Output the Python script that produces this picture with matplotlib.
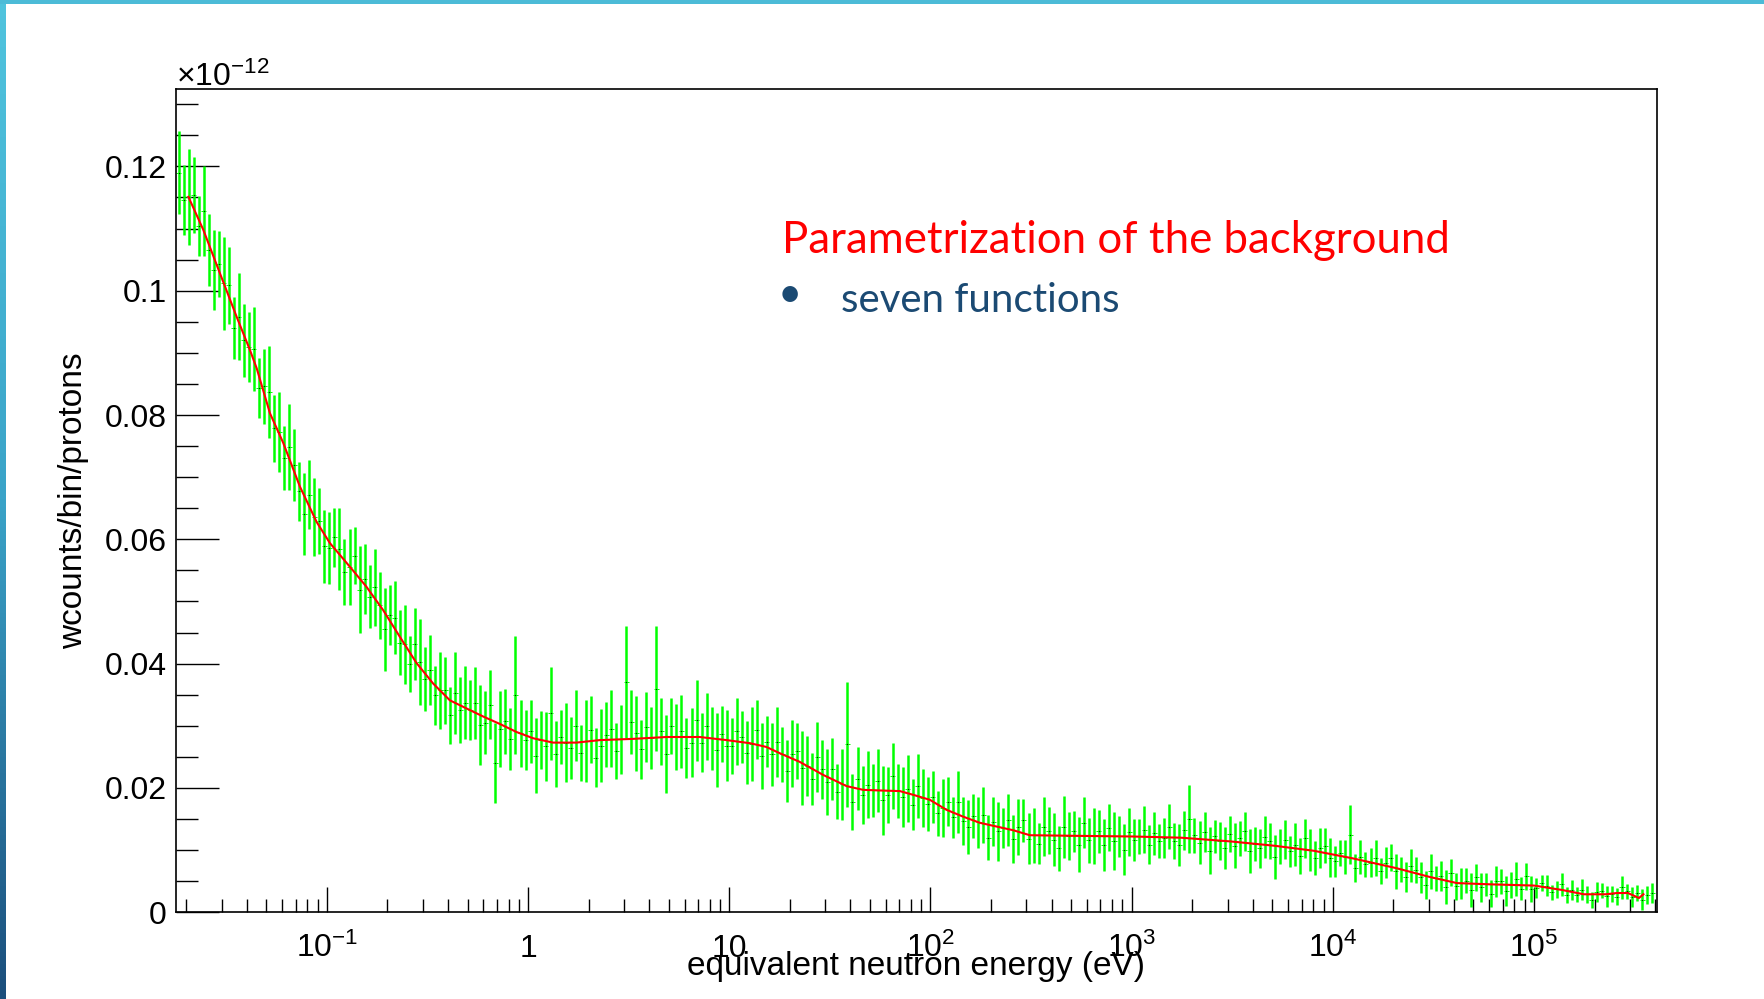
import matplotlib
matplotlib.use('Agg')
import matplotlib.pyplot as plt
import numpy as np
from matplotlib.colors import LinearSegmentedColormap
from matplotlib.ticker import FixedLocator, LogLocator, MultipleLocator, NullFormatter

plt.rcParams['font.family'] = ['Liberation Sans', 'DejaVu Sans']
plt.rcParams['mathtext.fontset'] = 'custom'
plt.rcParams['mathtext.rm'] = 'Liberation Sans'
plt.rcParams['mathtext.it'] = 'Liberation Sans:italic'
plt.rcParams['mathtext.bf'] = 'Liberation Sans:bold'

# background histogram, 40 log bins per decade, contents in units of 1e-4 (x 1e-12)
# first chunk covers 10^-1.75 .. 10^-1, last chunk 10^5 .. 10^5.6
bins_low = [1190, 1146, 1151, 1154, 1104, 1128, 1066, 1033, 1043, 1012, 1009, 940, 958, 920, 909,
            906, 843, 846, 837, 779, 773, 731, 749, 720, 677, 641, 672, 636, 630, 589]
bins_dec_m1 = [586, 603, 585, 548, 556, 574, 519, 536, 508, 523, 494, 455, 478, 474, 434, 431, 400, 432,
               403, 375, 390, 349, 357, 357, 317, 353, 325, 337, 325, 337, 301, 305, 334, 240, 295, 307,
               279, 350, 288, 277]
bins_dec_0 = [291, 252, 277, 267, 320, 255, 282, 273, 264, 300, 256, 275, 294, 249, 268, 286, 295, 260,
              278, 370, 306, 288, 262, 298, 281, 360, 291, 255, 300, 282, 291, 264, 273, 309, 273, 299,
              280, 261, 287, 268]
bins_dec_1 = [268, 291, 282, 257, 271, 294, 252, 274, 254, 274, 254, 227, 255, 260, 232, 235, 215, 250,
              230, 210, 230, 194, 206, 270, 177, 215, 189, 205, 196, 212, 180, 188, 219, 195, 186, 199,
              173, 203, 184, 174]
bins_dec_2 = [185, 159, 168, 178, 153, 178, 147, 137, 155, 145, 157, 120, 146, 130, 136, 148, 118, 137,
              148, 118, 124, 110, 138, 131, 117, 103, 137, 123, 130, 109, 144, 116, 123, 130, 108, 136,
              115, 122, 101, 129]
bins_dec_3 = [116, 122, 133, 109, 127, 115, 120, 138, 114, 108, 132, 150, 124, 112, 129, 99, 122, 115,
              103, 126, 107, 119, 130, 99, 110, 103, 121, 114, 89, 106, 117, 98, 109, 90, 119, 100,
              87, 103, 107, 88]
bins_dec_4 = [82, 96, 89, 125, 71, 89, 77, 80, 88, 67, 80, 88, 66, 69, 57, 75, 68, 56, 44, 66, 55, 58,
              41, 64, 42, 47, 51, 36, 56, 40, 45, 30, 50, 50, 34, 44, 54, 38, 58, 38]
bins_high = [39, 47, 43, 32, 37, 45, 28, 36, 28, 36, 29, 20, 32, 35, 26, 30, 25, 40, 34, 25, 31, 20, 28, 31]

# bin errors, same units
errs_low = [67, 56, 77, 61, 48, 72, 58, 64, 53, 75, 62, 50, 70, 59, 56, 67, 48, 61, 74, 54, 64, 51,
            69, 58, 48, 66, 56, 62, 53, 59]
errs_dec_m1 = [58, 48, 66, 53, 61, 46, 70, 56, 50, 62, 54, 67, 48, 59, 53, 64, 45, 58, 69, 51, 56, 48,
               62, 54, 46, 66, 53, 59, 48, 58, 64, 51, 56, 64, 61, 53, 50, 95, 54, 48]
errs_dec_0 = [51, 60, 47, 56, 75, 53, 44, 63, 50, 57, 45, 66, 54, 48, 59, 53, 62, 45, 56, 90, 51, 60,
              47, 57, 50, 100, 54, 63, 45, 53, 59, 48, 56, 65, 47, 54, 51, 60, 45, 57]
errs_dec_1 = [45, 54, 42, 50, 59, 47, 53, 41, 51, 57, 44, 50, 54, 45, 60, 48, 42, 56, 47, 53, 50, 44,
              57, 100, 45, 51, 47, 54, 42, 50, 56, 45, 53, 44, 48, 54, 41, 51, 47, 44]
errs_dec_2 = [42, 36, 47, 39, 33, 50, 38, 44, 35, 41, 45, 36, 39, 48, 32, 42, 38, 45, 35, 41, 44, 33,
              47, 38, 42, 36, 50, 39, 33, 44, 41, 36, 45, 35, 42, 38, 47, 33, 41, 39]
errs_dec_3 = [34, 28, 38, 31, 35, 27, 32, 36, 29, 34, 31, 55, 28, 35, 32, 38, 27, 31, 34, 29, 36, 28,
              32, 35, 27, 31, 34, 29, 36, 28, 32, 25, 35, 29, 31, 34, 27, 32, 28, 31]
errs_dec_4 = [25, 21, 28, 48, 22, 27, 20, 24, 29, 21, 25, 22, 28, 20, 24, 27, 21, 25, 22, 28, 20, 24,
              27, 21, 22, 25, 20, 28, 21, 24, 18, 22, 25, 20, 24, 21, 27, 18, 22, 21]
errs_high = [16, 13, 17, 12, 14, 18, 13, 16, 12, 17, 14, 13, 16, 12, 17, 13, 14, 18, 12, 16, 13, 17, 14, 16]

# background parametrization (sum of seven functions)
fit_energy = [0.0205, 0.0243, 0.0294, 0.0356, 0.0414, 0.0448, 0.0521, 0.0607, 0.0734, 0.0889, 0.1035,
              0.130, 0.157, 0.1905, 0.2307, 0.279, 0.3375, 0.4087, 0.494, 0.598, 0.724, 0.877, 1.06,
              1.33, 1.74, 2.27, 3.33, 4.88, 7.14, 9.70, 12.7, 15.3, 17.8, 22.4, 29.3, 38.3, 46.3, 56.1,
              70.5, 82.1, 99.3, 120, 145, 176, 213, 258, 312, 531, 1000, 1766, 3112, 5150, 8035, 12480,
              20700, 30200, 41400, 60500, 100200, 137500, 176700, 227500, 258000, 293200, 332500, 350000]
fit_value = [0.1151, 0.1098, 0.1028, 0.0958, 0.0905, 0.0875, 0.0803, 0.0755, 0.0685, 0.0628, 0.0594,
             0.0556, 0.0524, 0.0486, 0.0443, 0.0401, 0.0368, 0.0341, 0.0328, 0.0315, 0.0303, 0.0290,
             0.0280, 0.0273, 0.0273, 0.0277, 0.0279, 0.0282, 0.0282, 0.0277, 0.0272, 0.0266, 0.0256,
             0.0242, 0.0221, 0.0203, 0.0197, 0.0196, 0.0195, 0.0189, 0.0181, 0.0165, 0.0154, 0.0144,
             0.0138, 0.0132, 0.0124, 0.0123, 0.0122, 0.0120, 0.0114, 0.0107, 0.0099, 0.0087, 0.0071,
             0.0057, 0.0047, 0.0045, 0.0043, 0.0036, 0.0029, 0.0029, 0.0031, 0.0031, 0.0023, 0.0029]

xtick_pos = [0.1, 1, 10, 100, 1e3, 1e4, 1e5]
xtick_labels = [r'10$^{-1}$', '1', '10', r'10$^{2}$', r'10$^{3}$', r'10$^{4}$', r'10$^{5}$']
ytick_pos = [0, 0.02, 0.04, 0.06, 0.08, 0.1, 0.12]
ytick_labels = ['0', '0.02', '0.04', '0.06', '0.08', '0.1', '0.12']

W, H = 1765, 999
fig = plt.figure(figsize=(W / 100, H / 100), dpi=100)
fig.patch.set_facecolor('white')

# slide decoration: gradient bar on the left, thin bar on top
side = fig.add_axes([0, 0, 6 / W, 1])
side_cmap = LinearSegmentedColormap.from_list('side', ['#50c4de', '#3aa3c8', '#1b4e7c'])
side.imshow(np.linspace(0, 1, 256).reshape(-1, 1), aspect='auto', cmap=side_cmap)
side.set_axis_off()
top = fig.add_axes([0, 1 - 3.5 / H, 1, 3.5 / H])
top.set_facecolor('#4cbbd7')
top.set_xticks([])
top.set_yticks([])
for s in top.spines.values():
    s.set_visible(False)

ax = fig.add_axes([176 / W, 1 - 912.3 / H, 1480.7 / W, 823 / H])

vals = np.concatenate([bins_low, bins_dec_m1, bins_dec_0, bins_dec_1, bins_dec_2,
                       bins_dec_3, bins_dec_4, bins_high]) / 1e4
errs = np.concatenate([errs_low, errs_dec_m1, errs_dec_0, errs_dec_1, errs_dec_2,
                       errs_dec_3, errs_dec_4, errs_high]) / 1e4
edges = np.logspace(-1.75, 5.6, len(vals) + 1)
centers = np.sqrt(edges[:-1] * edges[1:])

# error bars carry the look of the histogram; bin widths as thin steps
ax.errorbar(centers, vals, yerr=errs, fmt='none', ecolor='#00ff00', elinewidth=1.8,
            capsize=0, zorder=2)
ax.hlines(vals, edges[:-1], edges[1:], colors='#00ff00', lw=0.7, zorder=2)
ax.plot(centers, vals, 's', ms=0.7, mew=0, color='#111111', zorder=3)
ax.plot(fit_energy, fit_value, color='#ff0000', lw=1.5, zorder=4)

ax.set_xscale('log')
ax.set_xlim(10 ** -1.75, 10 ** 5.61)
ax.set_ylim(0, 0.1324)

ax.xaxis.set_major_locator(FixedLocator(xtick_pos))
ax.set_xticklabels(xtick_labels)
ax.xaxis.set_minor_locator(LogLocator(base=10, subs=np.arange(2, 10), numticks=40))
ax.xaxis.set_minor_formatter(NullFormatter())
ax.set_yticks(ytick_pos)
ax.set_yticklabels(ytick_labels)
ax.yaxis.set_minor_locator(MultipleLocator(0.005))

ax.tick_params(which='both', direction='in', top=False, right=False, width=1.0, color='black')
ax.tick_params(axis='y', which='major', length=31, pad=6.5, labelsize=23)
ax.tick_params(axis='y', which='minor', length=15.5)
ax.tick_params(axis='x', which='major', length=18, pad=32, labelsize=23)
ax.tick_params(axis='x', which='minor', length=9.4)
for lab in ax.get_xticklabels():
    lab.set_verticalalignment('baseline')
for s in ax.spines.values():
    s.set_linewidth(1.2)

ax.set_xlabel('equivalent neutron energy (eV)', fontsize=24)
ax.xaxis.set_label_coords(0.5, -0.0762)
ax.xaxis.label.set_verticalalignment('baseline')
ax.set_ylabel('wcounts/bin/protons', fontsize=24)
ax.yaxis.set_label_coords(-0.0637, 0.5)
ax.yaxis.label.set_verticalalignment('baseline')

fig.text(176 / W, 1 - 86 / H, r'$\times$10$^{-12}$', fontsize=23, ha='left', va='baseline')

fig.text(782 / W, 1 - 253 / H, 'Parametrization of the background', color='#ff0000',
         fontsize=31.5, family='Lato', ha='left', va='baseline')
fig.text(790 / W, 1 - 295 / H, '\u2022', color='#1b4a73', fontsize=30, family='Lato',
         ha='center', va='center')
fig.text(841 / W, 1 - 312 / H, 'seven functions', color='#1b4a73',
         fontsize=29, family='Lato', ha='left', va='baseline')

fig.savefig('out.png', dpi=100)
